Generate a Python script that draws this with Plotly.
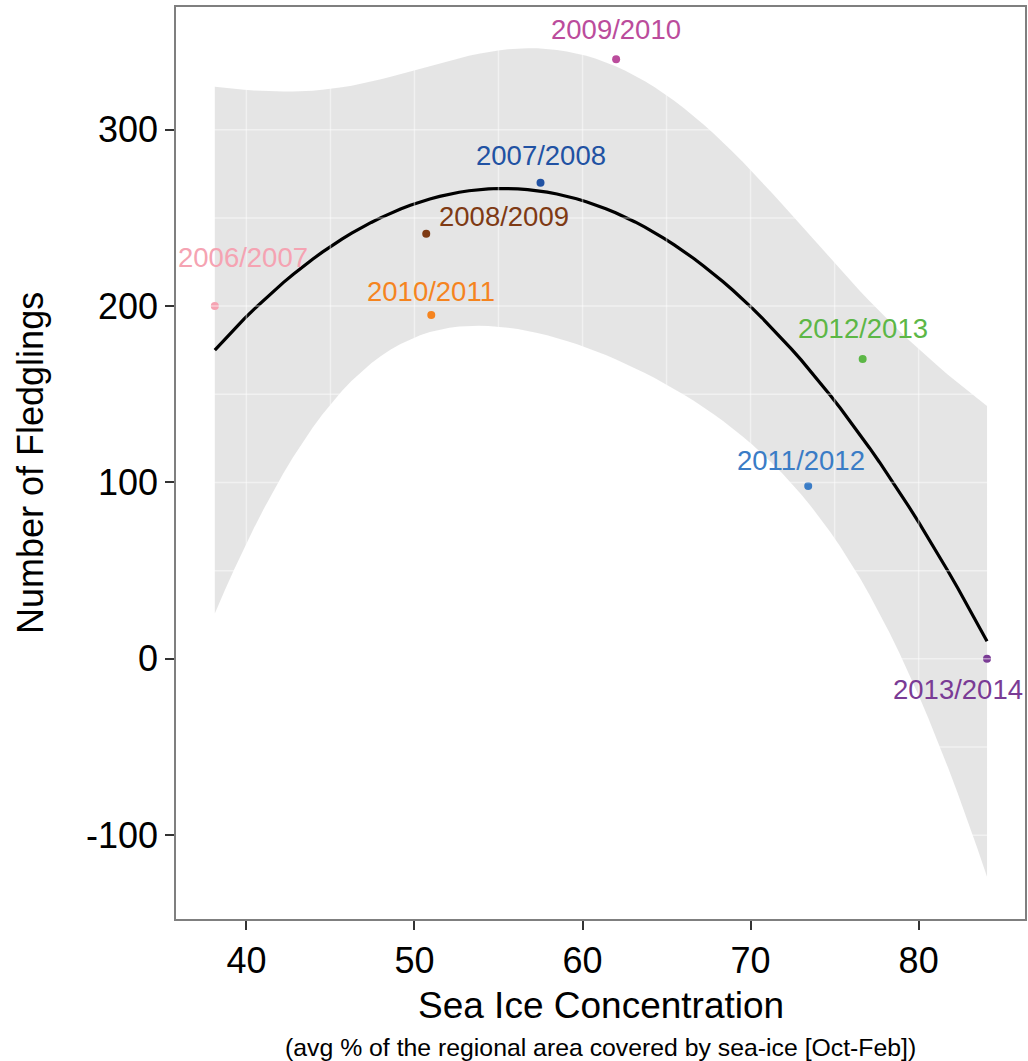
import numpy as np
import plotly.graph_objects as go

# ---- data ----
seasons = ["2006/2007", "2007/2008", "2008/2009", "2009/2010",
           "2010/2011", "2011/2012", "2012/2013", "2013/2014"]
sea_ice = [38.12, 57.5, 50.7, 62.0, 51.0, 73.43, 76.67, 84.07]
fledglings = [200, 270, 241, 340, 195, 98, 170, 0]
colors = ["#F5A3B2", "#2152A3", "#7E3A14", "#BB4C9C",
          "#F5841F", "#3A7CC6", "#5CB746", "#7A3B95"]
x_ticks = [40, 50, 60, 70, 80]
y_ticks = [-100, 0, 100, 200, 300]
y_tick_labels = ["-100", "0", "100", "200", "300"]

# ---- quadratic fit with 95% confidence band (like geom_smooth lm y~poly(x,2)) ----
x = np.array(sea_ice, dtype=float)
y = np.array(fledglings, dtype=float)
X = np.column_stack([np.ones_like(x), x, x ** 2])
beta, *_ = np.linalg.lstsq(X, y, rcond=None)
resid = y - X @ beta
dof = len(x) - 3
sigma2 = resid @ resid / dof
XtX_inv = np.linalg.inv(X.T @ X)
t_crit = 2.570582  # t(0.975, df=5)
xs = np.linspace(x.min(), x.max(), 80)
Xs = np.column_stack([np.ones_like(xs), xs, xs ** 2])
fit = Xs @ beta
se = np.sqrt(np.einsum("ij,jk,ik->i", Xs, XtX_inv, Xs) * sigma2)
lo = fit - t_crit * se
hi = fit + t_crit * se

# ---- styles ----
FONT = "Arial, Liberation Sans, sans-serif"
label_shift = {  # pixel offsets of each text label from its point
    "2006/2007": (28, 49), "2007/2008": (0, 27), "2008/2009": (78, 17),
    "2009/2010": (0, 30), "2010/2011": (0, 23), "2011/2012": (-7, 26),
    "2012/2013": (0, 31), "2013/2014": (-29, -31),
}
xr = [35.81, 86.33]
yr = [-147.5, 369.6]

fig = go.Figure()
fig.add_trace(go.Scatter(
    x=np.concatenate([xs, xs[::-1]]), y=np.concatenate([hi, lo[::-1]]),
    fill="toself", fillcolor="rgba(153,153,153,0.25)",
    line=dict(width=0), mode="lines", hoverinfo="skip", showlegend=False))
fig.add_trace(go.Scatter(x=xs, y=fit, mode="lines",
                         line=dict(color="black", width=3.2), showlegend=False))
fig.add_trace(go.Scatter(x=sea_ice, y=fledglings, mode="markers",
                         marker=dict(color=colors, size=8), showlegend=False))

for s, xv, yv, c in zip(seasons, sea_ice, fledglings, colors):
    dx, dy = label_shift[s]
    fig.add_annotation(x=xv, y=yv, text=s, showarrow=False,
                       xshift=dx, yshift=dy, xanchor="center", yanchor="middle",
                       font=dict(family=FONT, size=27.5, color=c))

# faint grid lines visible over the ribbon
for gx in [40, 45, 50, 55, 60, 65, 70, 75, 80, 85]:
    fig.add_shape(type="line", xref="x", yref="paper", x0=gx, x1=gx, y0=0, y1=1,
                  line=dict(color="rgba(255,255,255,0.45)", width=1.5), layer="above")
for gy in [-100, -50, 0, 50, 100, 150, 200, 250, 300, 350]:
    fig.add_shape(type="line", xref="paper", yref="y", x0=0, x1=1, y0=gy, y1=gy,
                  line=dict(color="rgba(255,255,255,0.45)", width=1.5), layer="above")

axis_common = dict(showgrid=False, zeroline=False, showline=True, mirror=True,
                   linecolor="#7f7f7f", linewidth=1.5, ticks="outside",
                   ticklen=9, tickwidth=1.5, tickcolor="#333333",
                   tickfont=dict(family=FONT, size=36, color="black"))
fig.update_xaxes(range=xr, tickvals=x_ticks, **axis_common)
fig.update_yaxes(range=yr, tickvals=y_ticks, ticktext=y_tick_labels, **axis_common)

fig.add_annotation(text="Sea Ice Concentration", xref="paper", yref="paper",
                   x=0.5, y=0, yshift=-86, xanchor="center", yanchor="middle",
                   showarrow=False, font=dict(family=FONT, size=37, color="black"))
fig.add_annotation(text="(avg % of the regional area covered by sea-ice [Oct-Feb])",
                   xref="paper", yref="paper", x=0.5, y=0, yshift=-128,
                   xanchor="center", yanchor="middle", showarrow=False,
                   font=dict(family=FONT, size=24.8, color="black"))
fig.add_annotation(text="Number of Fledglings", xref="paper", yref="paper",
                   x=0, xshift=-146, y=0.5, textangle=-90, xanchor="center",
                   yanchor="middle", showarrow=False,
                   font=dict(family=FONT, size=36, color="black"))

fig.update_layout(width=1028, height=1061, plot_bgcolor="white",
                  paper_bgcolor="white",
                  margin=dict(l=176, r=1, t=7, b=142))
fig.write_html("out.html", config={"displayModeBar": False},
               post_script="document.body.style.margin='0';document.body.style.padding='0';")
